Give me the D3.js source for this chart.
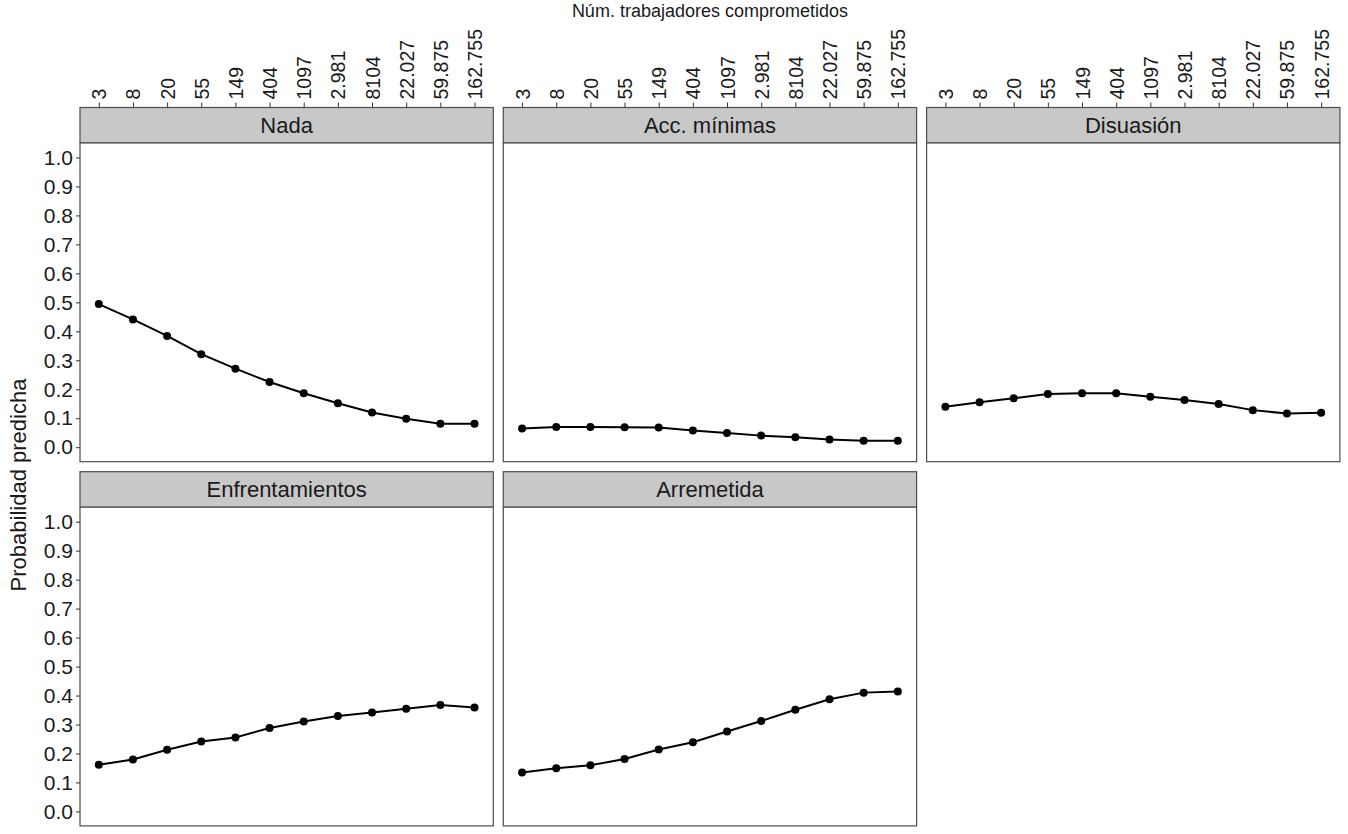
<!DOCTYPE html>
<html>
<head>
<meta charset="utf-8">
<script src="https://cdn.jsdelivr.net/npm/d3@7"></script>
<style>
  body { margin: 0; background: #fff; }
  svg text { font-family: "Liberation Sans", Arial, sans-serif; fill: #1a1a1a; }
</style>
</head>
<body>
<div id="chart"></div>
<script>
// data
var panels = ["Nada", "Acc. mínimas", "Disuasión", "Enfrentamientos", "Arremetida"];
var logWorkers = [1, 2, 3, 4, 5, 6, 7, 8, 9, 10, 11, 12];
var tickLabels = ["3", "8", "20", "55", "149", "404", "1097", "2.981", "8104", "22.027", "59.875", "162.755"];
var yTicks = [0, 0.1, 0.2, 0.3, 0.4, 0.5, 0.6, 0.7, 0.8, 0.9, 1.0];

var nada = [0.494, 0.441, 0.384, 0.321, 0.271, 0.225, 0.186, 0.152, 0.120, 0.098, 0.081, 0.081];
var accMinimas = [0.065, 0.070, 0.070, 0.069, 0.068, 0.058, 0.049, 0.040, 0.034, 0.027, 0.022, 0.022];
var disuasion = [0.140, 0.155, 0.169, 0.184, 0.186, 0.186, 0.174, 0.163, 0.149, 0.128, 0.116, 0.119];
var enfrentamientos = [0.161, 0.179, 0.213, 0.241, 0.255, 0.288, 0.310, 0.329, 0.341, 0.354, 0.367, 0.359];
var arremetida = [0.134, 0.149, 0.159, 0.181, 0.214, 0.239, 0.276, 0.312, 0.351, 0.387, 0.410, 0.414];

var series = [nada, accMinimas, disuasion, enfrentamientos, arremetida];

// layout
var W = 1348, H = 834,
    x0 = 80, y0 = 107.5,
    pw = 413.3, ph = 318.7,
    stripH = 35.5, gap = 10,
    ncol = 3,
    border = "#4d4d4d";

var svg = d3.select("#chart").append("svg")
    .attr("width", W).attr("height", H);

var x = d3.scaleLinear().domain([1 - 0.55, 12 + 0.55]).range([0, pw]);
var y = d3.scaleLinear().domain([-0.05, 1.05]).range([ph, 0]);

var line = d3.line()
    .x(function(d, i) { return x(logWorkers[i]); })
    .y(function(d) { return y(d); });

panels.forEach(function(name, k) {
  var col = k % ncol, row = Math.floor(k / ncol);
  var px = x0 + col * (pw + gap);
  var sy = y0 + row * (stripH + ph + gap);
  var g = svg.append("g").attr("transform", "translate(" + px + "," + sy + ")");

  // strip
  g.append("rect")
      .attr("width", pw).attr("height", stripH)
      .attr("fill", "#c8c8c8").attr("stroke", border).attr("stroke-width", 1.2);
  g.append("text")
      .attr("x", pw / 2).attr("y", stripH / 2)
      .attr("dy", "0.36em")
      .attr("text-anchor", "middle")
      .style("font-size", "22px")
      .text(name);

  var p = g.append("g").attr("transform", "translate(0," + stripH + ")");
  p.append("rect")
      .attr("width", pw).attr("height", ph)
      .attr("fill", "#fff").attr("stroke", border).attr("stroke-width", 1.2);

  p.append("path")
      .datum(series[k])
      .attr("d", line)
      .attr("fill", "none").attr("stroke", "#000").attr("stroke-width", 2);

  p.selectAll("circle")
      .data(series[k])
      .enter().append("circle")
      .attr("cx", function(d, i) { return x(logWorkers[i]); })
      .attr("cy", function(d) { return y(d); })
      .attr("r", 4)
      .attr("fill", "#000");

  // y axis on left column
  if (col === 0) {
    var ya = p.append("g").call(d3.axisLeft(y).tickValues(yTicks)
        .tickFormat(d3.format(".1f")).tickSize(4).tickPadding(3));
    ya.select(".domain").remove();
    ya.selectAll("line").attr("stroke", "#333");
    ya.selectAll("text").style("font-size", "21px").attr("fill", "#1a1a1a");
  }

  // top axis on first row
  if (row === 0) {
    var xa = g.append("g").call(d3.axisTop(x).tickValues(logWorkers)
        .tickFormat(function(d, i) { return tickLabels[i]; }).tickSize(5).tickPadding(3));
    xa.select(".domain").remove();
    xa.selectAll("line").attr("stroke", "#333");
    xa.selectAll("text")
        .style("font-size", "19.5px")
        .attr("fill", "#1a1a1a")
        .attr("text-anchor", "start")
        .attr("transform", "rotate(-90)")
        .attr("x", 8).attr("y", 0)
        .attr("dy", "0.36em");
  }
});

// axis titles
svg.append("text")
    .attr("x", x0 + (3 * pw + 2 * gap) / 2).attr("y", 17)
    .attr("text-anchor", "middle")
    .style("font-size", "18px")
    .text("Núm. trabajadores comprometidos");

svg.append("text")
    .attr("transform", "translate(26," + 485 + ") rotate(-90)")
    .attr("text-anchor", "middle")
    .style("font-size", "22px")
    .text("Probabilidad predicha");
</script>
</body>
</html>
